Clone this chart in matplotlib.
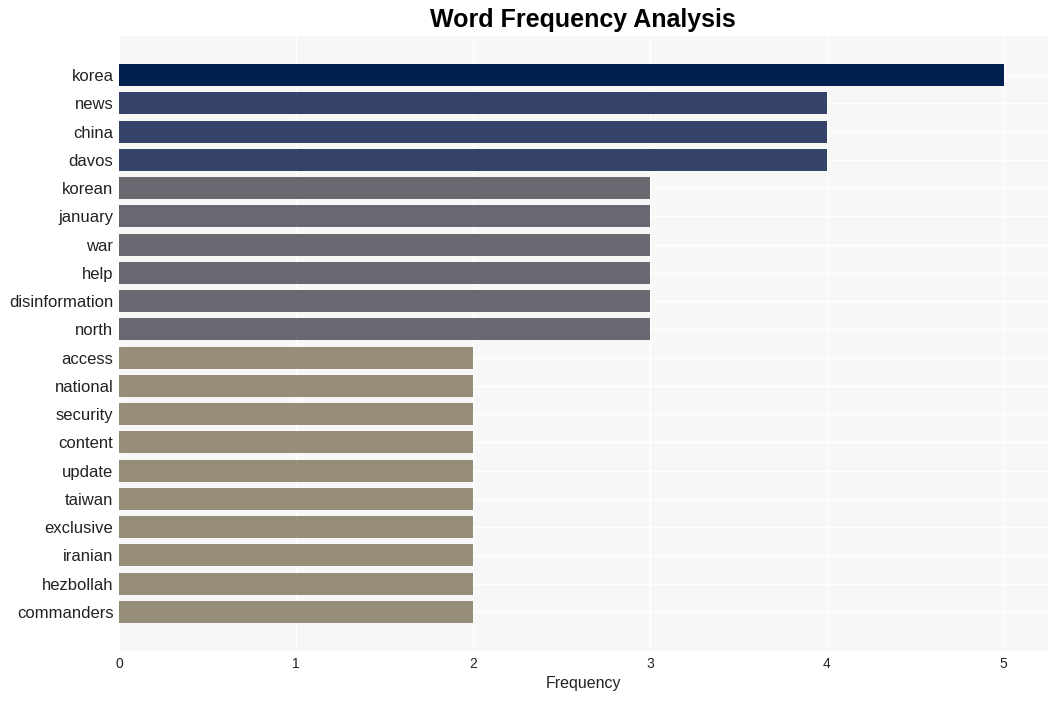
import matplotlib
matplotlib.use("Agg")
import matplotlib.pyplot as plt

# word counts, top to bottom
words = ['korea', 'news', 'china', 'davos', 'korean', 'january', 'war', 'help',
         'disinformation', 'north', 'access', 'national', 'security', 'content',
         'update', 'taiwan', 'exclusive', 'iranian', 'hezbollah', 'commanders']
counts = [5, 4, 4, 4, 3, 3, 3, 3, 3, 3, 2, 2, 2, 2, 2, 2, 2, 2, 2, 2]

# colour per frequency level
level_colors = {5: '#00204f', 4: '#35436b', 3: '#676870', 2: '#958d77'}

plt.rcParams['font.family'] = ['Liberation Sans', 'DejaVu Sans']

fig = plt.figure(figsize=(10.58, 7.01), dpi=100)
ax = fig.add_axes([119 / 1058, 1 - 651 / 701, (1048 - 119) / 1058, (651 - 36) / 701])
ax.set_facecolor('#f7f7f7')

ypos = list(range(len(words)))
colors = [level_colors[c] for c in counts]
ax.barh(ypos, counts, height=0.78, color=colors, zorder=2)

ax.set_yticks(ypos)
ax.set_yticklabels(words, fontsize=12, color='#222222')
ax.set_xlim(0, 5.25)
ax.set_ylim(len(words) - 1 + 1.38, -1.38)
ax.set_xticks([0, 1, 2, 3, 4, 5])
ax.tick_params(axis='x', labelsize=10, colors='#222222', length=0, pad=4)
ax.tick_params(axis='y', length=0, pad=4)

ax.grid(True, color='white', linewidth=1, zorder=0)
ax.set_axisbelow(True)
for s in ax.spines.values():
    s.set_visible(False)

ax.set_xlabel('Frequency', fontsize=11.5, color='#222222', labelpad=4)
fig.text(583 / 1058, 1 - 20 / 701, 'Word Frequency Analysis', ha='center', va='center',
         fontsize=18, fontweight='bold')

fig.savefig('out.png', dpi=100)
